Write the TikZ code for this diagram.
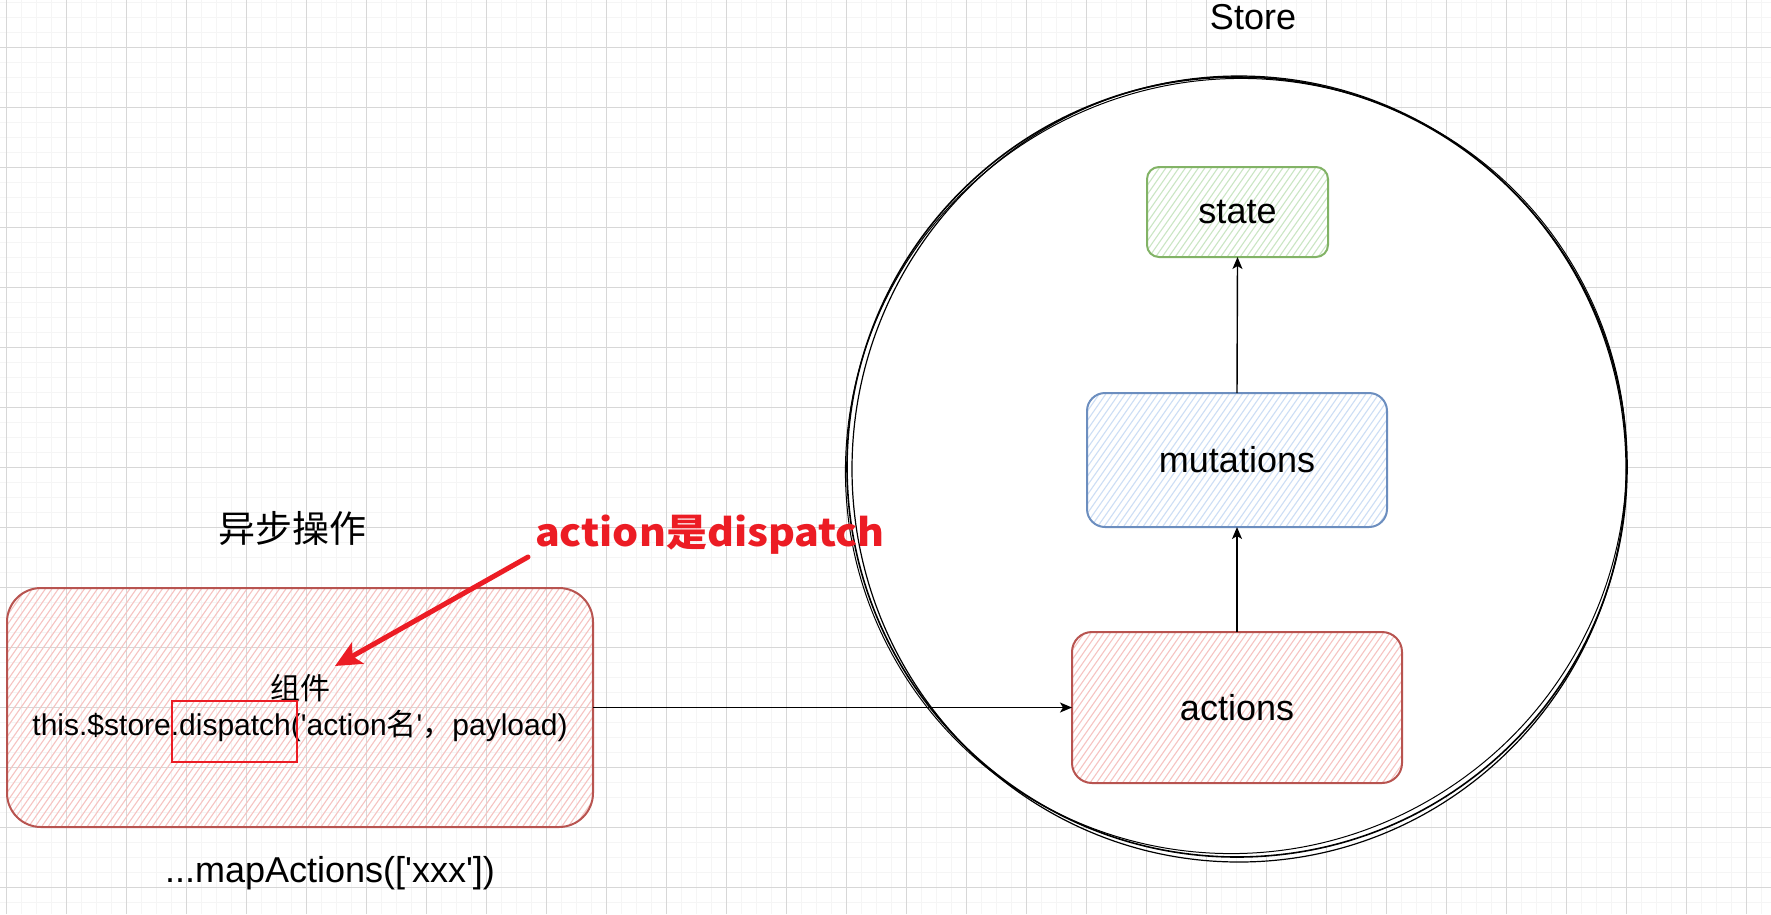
\documentclass[tikz,border=0pt]{standalone}
\usepackage{fontspec}
\setmainfont{Liberation Sans}[Ligatures=TeXOff]
\newfontfamily\cjk{Noto Sans CJK SC}
\newfontfamily\cjkwide{Noto Sans CJK SC}[FakeStretch=1.08]
\usetikzlibrary{arrows.meta}
\definecolor{minorgrid}{RGB}{245,245,245}
\definecolor{majorgrid}{RGB}{215,215,215}
\definecolor{redstroke}{RGB}{184,84,80}
\definecolor{redhatch}{RGB}{246,196,194}
\definecolor{bluestroke}{RGB}{108,142,191}
\definecolor{bluehatch}{RGB}{205,222,245}
\definecolor{greenstroke}{RGB}{130,179,102}
\definecolor{greenhatch}{RGB}{203,230,196}
\definecolor{alertred}{RGB}{236,28,36}
\newcommand\hatchfill[6]{%
  \begin{scope}
    \clip[rounded corners=#5] (#1,#2) rectangle (#3,#4);
    \pgfmathsetmacro\hh{#4-#2}
    \pgfmathsetmacro\hs{\hh/1.43}
    \pgfmathsetmacro\xs{#1-\hs}
    \pgfmathsetmacro\xn{\xs+6.5}
    \foreach \k in {\xs,\xn,...,#3} \draw[#6, line width=1.1] (\k,#4) -- ++(\hs,-\hh);
  \end{scope}}
\tikzset{
  box/.style={rounded corners=#1, line width=2, inner sep=0pt, outer sep=0pt},
  lbl/.style={font=\fontsize{36}{43}\selectfont, inner sep=0pt},
  flow/.style={line width=1.4, -{Stealth[length=12pt,width=10pt,inset=3pt]}},
}
\begin{document}
\begin{tikzpicture}[x=1pt,y=-1pt]
\useasboundingbox (0,0) rectangle (1771,914);
\fill[white] (0,0) rectangle (1771,914);
% grid
\foreach \x in {6.5,21.5,...,1771} \draw[minorgrid, line width=1.6] (\x,0) -- (\x,914);
\foreach \y in {2.3,17.3,...,914} \draw[minorgrid, line width=1.6] (0,\y) -- (1771,\y);
\foreach \x in {6.5,66.5,...,1771} \draw[majorgrid, line width=1] (\x,0) -- (\x,914);
\foreach \y in {47.3,107.3,...,914} \draw[majorgrid, line width=1] (0,\y) -- (1771,\y);
% store circle (sketchy double stroke)
\node[circle, draw, fill=white, line width=1.6, minimum size=780pt, inner sep=0pt] (store) at (1237,467) {};
\draw[line width=1.2] (1239,469) ellipse [x radius=387, y radius=393];
\draw[line width=1.0, rotate around={30:(1236,466)}] (1236,466) ellipse [x radius=392, y radius=386];
\node[lbl] (storelbl) at (1253,17) {Store};
% hatching
\hatchfill{1147}{167}{1328}{257}{12}{greenhatch}
\hatchfill{1087}{393}{1387}{527}{18}{bluehatch}
\hatchfill{1072}{632}{1402}{783}{20}{redhatch}
\hatchfill{7}{588}{593}{827}{34}{redhatch}
% boxes
\node[box=12, draw=greenstroke, minimum width=181pt, minimum height=90pt, lbl] (state) at (1237.5,212) {state};
\node[box=18, draw=bluestroke, minimum width=300pt, minimum height=134pt, lbl] (mutations) at (1237,460) {mutations};
\node[box=20, draw=redstroke, minimum width=330pt, minimum height=151pt, lbl] (actions) at (1237,707.5) {actions};
\node[box=34, draw=redstroke, minimum width=586pt, minimum height=239pt, align=center,
      font=\fontsize{30}{36}\selectfont] (comp) at (300,707.5)
  {{\cjk 组件}\\this.\$store.dispatch('action{\cjk 名}'{\cjk ，}payload)};
\node[draw=alertred, line width=2.5, minimum width=125pt, minimum height=61pt, inner sep=0pt] (hl) at (234.5,731.5) {};
% labels
\node[lbl, font=\cjk\fontsize{37}{44}\selectfont] (async) at (292,528) {异步操作};
\node[lbl] (map) at (330,873) {...mapActions(['xxx'])};
\node[inner sep=0pt, text=alertred, font=\cjkwide\bfseries\fontsize{38}{44}\selectfont] (note) at (710,535) {action是dispatch};
% connectors
\draw[flow] (comp.east) -- (actions.west);
\draw[flow] (actions.north) -- (mutations.south);
\draw[flow] (mutations.north) -- (state.south);
\coordinate (ra) at (528,557);
\coordinate (rb) at (335,666);
\draw[alertred, line width=5, line cap=round, -{Stealth[length=26pt,width=24pt,inset=6pt]}] (ra) -- (rb);
\end{tikzpicture}
\end{document}
